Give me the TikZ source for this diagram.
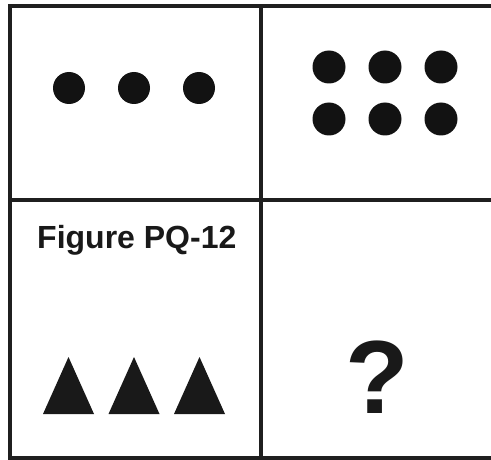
\documentclass[tikz,border=0pt]{standalone}
\usepackage{fontspec}
\setmainfont{Liberation Sans}
\begin{document}
\begin{tikzpicture}[x=1pt,y=-1pt,
  gridline/.style={line width=3.2pt,draw=black!88},
  dot/.style={fill=black!93},
  tri/.style={fill=black!90},
  lbl/.style={font=\fontsize{32}{32}\selectfont\bfseries,text=black!90,inner sep=0pt,anchor=base west},
  qmark/.style={font=\fontsize{104}{104}\selectfont\bfseries,text=black!90,inner sep=0pt,anchor=base}]
\useasboundingbox (0,0) rectangle (491,460);
\fill[white] (0,0) rectangle (491,460);
% grid
\draw[gridline] (491,6) -- (10,6) -- (10,458) -- (491,458);
\draw[gridline] (261,6) -- (261,458);
\draw[gridline] (10,200) -- (491,200);
% top-left dots
\foreach \x in {69,134,199} \fill[dot] (\x,88) circle (16);
% top-right dots
\foreach \x in {329,385,441} {
  \fill[dot] (\x,67) circle (16.5);
  \fill[dot] (\x,119) circle (16.5);
}
% label
\node[lbl] (label) at (37,248) {Figure PQ-12};
% triangles
\foreach \x in {68.5,134,199.5} \fill[tri] (\x-25.5,414) -- (\x,357) -- (\x+25.5,414) -- cycle;
% question mark
\node[qmark] (q) at (377,413) {?};
\end{tikzpicture}
\end{document}
